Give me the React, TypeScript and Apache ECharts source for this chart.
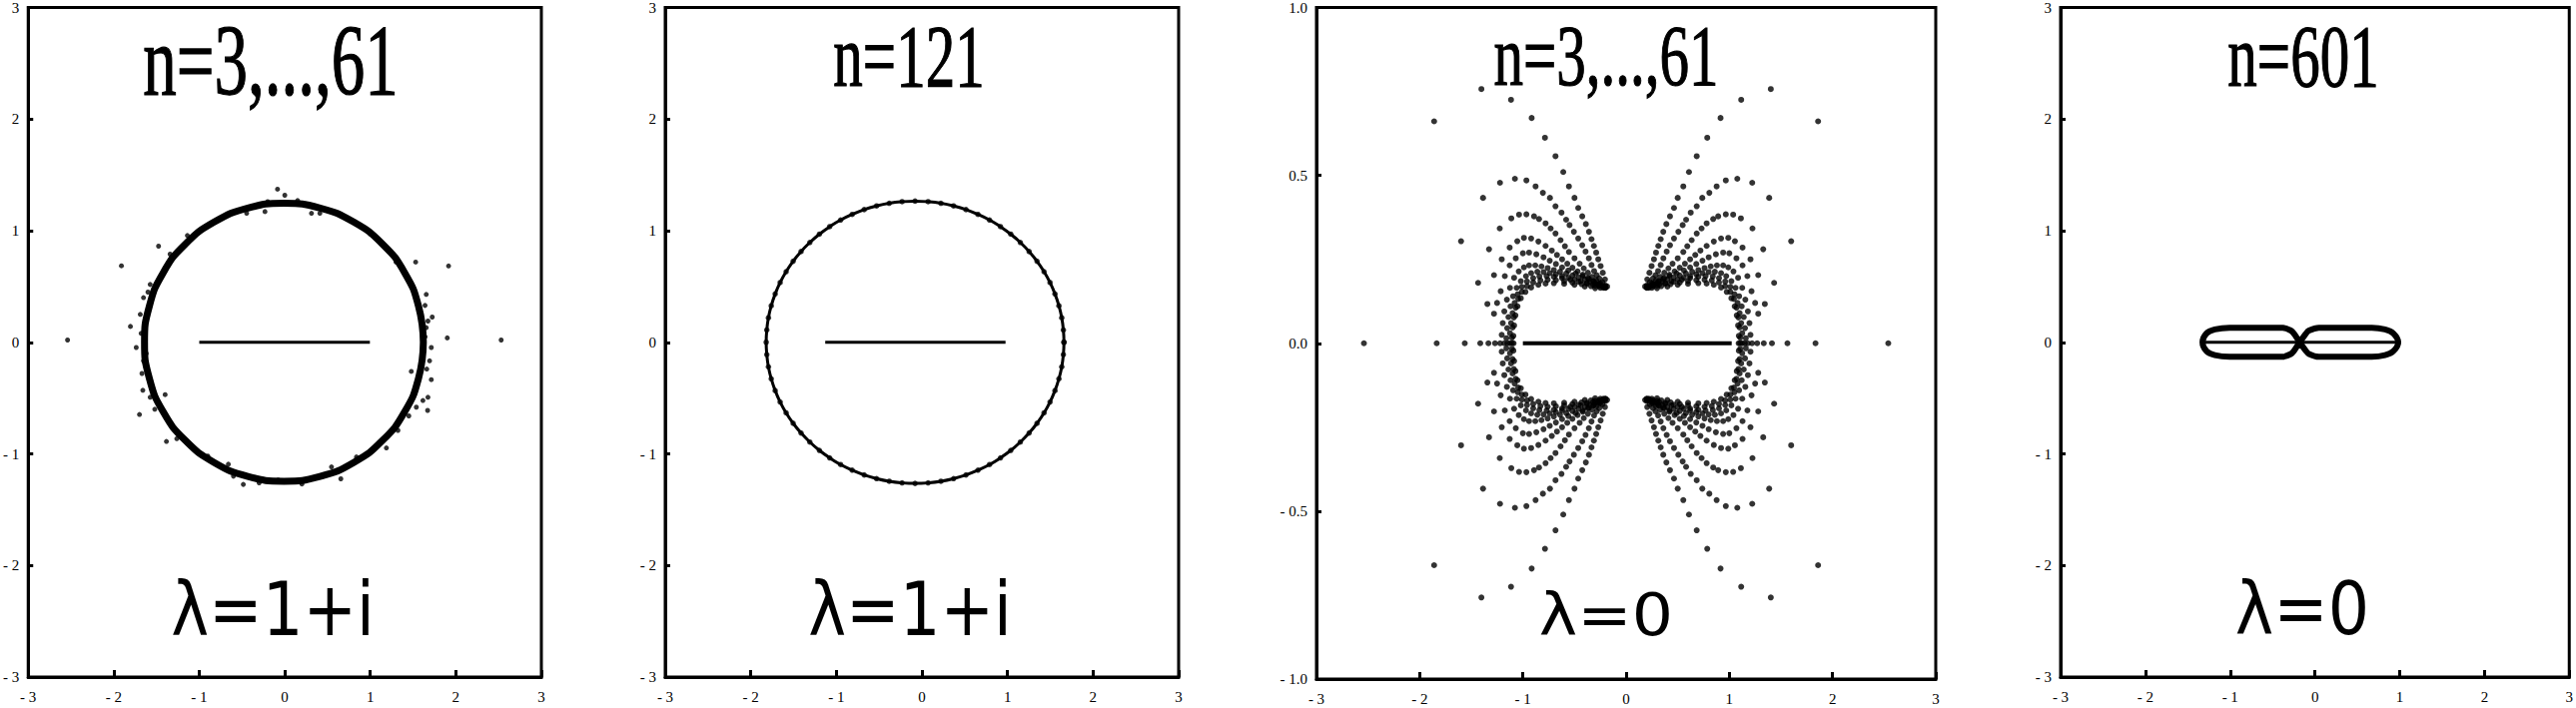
import React, { useEffect, useRef } from "react";
import * as echarts from "echarts";

// ---------- tick labels ----------
const intTickLabels = ["- 3", "- 2", "- 1", "0", "1", "2", "3"];
const p3YTickLabels = ["- 1.0", "- 0.5", "0.0", "0.5", "1.0"];

// ---------- panel texts ----------
const titles = ["n=3,...,61", "n=121", "n=3,...,61", "n=601"];
const lambdas = ["λ=1+i", "λ=1+i", "λ=0", "λ=0"];

// ---------- panel 1 : lambda = 1+i, n = 3..61 ----------
const p1Ring = [
  [1.62, 0], [1.564, 0.322], [1.402, 0.623], [1.143, 0.88], [0.805, 1.078], [0.412, 1.203],
  [-0.01, 1.245], [-0.432, 1.203], [-0.825, 1.078], [-1.163, 0.88], [-1.422, 0.623], [-1.584, 0.322],
  [-1.64, 0], [-1.584, -0.322], [-1.422, -0.623], [-1.163, -0.88], [-0.825, -1.078], [-0.432, -1.203],
  [-0.01, -1.245], [0.412, -1.203], [0.805, -1.078], [1.143, -0.88], [1.402, -0.623], [1.564, -0.322],
  [1.62, 0],
];
const p1Segment = [[-1.0, 0], [0.995, 0]];
const p1Dots = [
  [-2.54, 0.02], [2.53, 0.02], [-1.91, 0.685], [1.915, 0.684], [-1.476, 0.861], [1.53, 0.719],
  [-1.805, 0.142], [1.724, 0.226], [1.9, 0.039], [-1.737, -0.047], [-1.699, -0.647], [-1.399, -0.469],
  [-1.384, -0.889], [1.479, -0.261], [1.674, -0.493], [1.67, -0.611], [1.713, -0.335], [1.188, -0.947],
  [-0.485, -1.274], [0.655, -1.224], [-0.085, 1.372], [0.0, 1.318], [-1.66, -0.43], [-1.139, 0.957],
  [-1.341, 0.79], [-1.652, 0.4], [-1.69, 0.25], [-1.574, 0.518], [-1.652, -0.166], [-1.574, -0.493],
  [-1.263, -0.864], [-0.66, -1.093], [-0.446, 1.156], [-0.232, 1.171], [-0.077, -1.235], [0.312, 1.156],
  [0.41, 1.156], [1.654, 0.429], [1.713, -0.047], [1.693, -0.166], [1.615, -0.522], [1.538, -0.582],
  [1.323, -0.79], [0.838, -1.028], [1.654, 0.131], [1.674, 0.19], [0.546, -1.117],
  [-1.68, 0.08], [-1.67, -0.28], [-1.6, 0.45], [-1.52, -0.6], [-1.05, 0.96], [-0.9, -1.02],
  [-0.2, 1.26], [0.15, 1.27], [0.6, 1.16], [1.0, 0.97], [1.3, 0.72], [1.64, 0.05], [1.66, -0.24],
  [1.45, -0.66], [0.2, -1.27], [-0.3, -1.26], [-0.6, -1.2], [0.45, -1.2], [1.64, 0.33], [-1.62, -0.1],
];

// ---------- panel 2 : lambda = 1+i, n = 121 ----------
const p2Ring = [
  [1.66, 0], [1.653, 0.11], [1.634, 0.22], [1.601, 0.327], [1.555, 0.433], [1.497, 0.535],
  [1.427, 0.633], [1.345, 0.726], [1.253, 0.813], [1.15, 0.894], [1.038, 0.969], [0.918, 1.036],
  [0.79, 1.096], [0.655, 1.146], [0.515, 1.189], [0.37, 1.222], [0.222, 1.246], [0.072, 1.26],
  [-0.08, 1.265], [-0.232, 1.26], [-0.382, 1.246], [-0.53, 1.222], [-0.675, 1.189], [-0.815, 1.146],
  [-0.95, 1.096], [-1.078, 1.036], [-1.198, 0.969], [-1.31, 0.894], [-1.413, 0.813], [-1.505, 0.726],
  [-1.587, 0.633], [-1.657, 0.535], [-1.715, 0.433], [-1.761, 0.327], [-1.794, 0.22], [-1.813, 0.11],
  [-1.82, 0], [-1.813, -0.11], [-1.794, -0.22], [-1.761, -0.327], [-1.715, -0.433], [-1.657, -0.535],
  [-1.587, -0.633], [-1.505, -0.726], [-1.413, -0.813], [-1.31, -0.894], [-1.198, -0.969], [-1.078, -1.036],
  [-0.95, -1.096], [-0.815, -1.146], [-0.675, -1.189], [-0.53, -1.222], [-0.382, -1.246], [-0.232, -1.26],
  [-0.08, -1.265], [0.072, -1.26], [0.222, -1.246], [0.37, -1.222], [0.515, -1.189], [0.655, -1.146],
  [0.79, -1.096], [0.918, -1.036], [1.038, -0.969], [1.15, -0.894], [1.253, -0.813], [1.345, -0.726],
  [1.427, -0.633], [1.497, -0.535], [1.555, -0.433], [1.601, -0.327], [1.634, -0.22], [1.653, -0.11],
  [1.66, 0],
];
const p2Segment = [[-1.13, 0], [0.977, 0]];

// ---------- panel 3 : lambda = 0, n = 3..61 (upper-left quadrant; the picture is symmetric) ----------
const p3ArcA = [
  [-0.184, 0.169], [-0.205, 0.19], [-0.226, 0.21], [-0.247, 0.23], [-0.27, 0.25], [-0.29, 0.27],
  [-0.312, 0.29], [-0.335, 0.31], [-0.36, 0.332], [-0.39, 0.355], [-0.425, 0.378], [-0.464, 0.403],
  [-0.5, 0.433], [-0.554, 0.467], [-0.609, 0.51], [-0.684, 0.557], [-0.786, 0.612], [-0.915, 0.671],
  [-1.115, 0.725], [-1.402, 0.757],
];
const p3ArcB = [
  [-0.2, 0.172], [-0.23, 0.182], [-0.26, 0.193], [-0.285, 0.203], [-0.31, 0.215], [-0.335, 0.233],
  [-0.361, 0.253], [-0.393, 0.273], [-0.425, 0.292], [-0.464, 0.312], [-0.506, 0.332], [-0.548, 0.352],
  [-0.581, 0.368], [-0.626, 0.389], [-0.684, 0.408], [-0.738, 0.433], [-0.806, 0.448], [-0.877, 0.467],
  [-0.966, 0.485], [-1.077, 0.49], [-1.222, 0.478], [-1.386, 0.433], [-1.599, 0.304],
];
const p3ArcC = [
  [-0.21, 0.17], [-0.25, 0.179], [-0.29, 0.188], [-0.33, 0.198], [-0.37, 0.21], [-0.41, 0.223],
  [-0.45, 0.237], [-0.5, 0.253], [-0.554, 0.272], [-0.593, 0.289], [-0.635, 0.307], [-0.684, 0.327],
  [-0.731, 0.342], [-0.78, 0.357], [-0.844, 0.37], [-0.892, 0.378], [-0.966, 0.384], [-1.037, 0.383],
  [-1.112, 0.372], [-1.224, 0.342], [-1.328, 0.28], [-1.434, 0.18],
];
const p3ArcD = [
  [-0.22, 0.168], [-0.27, 0.176], [-0.32, 0.185], [-0.37, 0.194], [-0.42, 0.204], [-0.47, 0.214],
  [-0.52, 0.225], [-0.57, 0.237], [-0.62, 0.25], [-0.67, 0.263], [-0.72, 0.276], [-0.78, 0.29],
  [-0.85, 0.303], [-0.92, 0.312], [-0.99, 0.314], [-1.054, 0.304], [-1.128, 0.285], [-1.205, 0.25],
  [-1.28, 0.203], [-1.344, 0.117],
];
const p3ArcE = [
  [-0.21, 0.168], [-0.26, 0.176], [-0.31, 0.184], [-0.36, 0.192], [-0.42, 0.2], [-0.49, 0.208],
  [-0.56, 0.217], [-0.62, 0.226], [-0.68, 0.236], [-0.74, 0.246], [-0.8, 0.256], [-0.87, 0.265],
  [-0.94, 0.27], [-1.0, 0.268], [-1.069, 0.253], [-1.128, 0.232], [-1.175, 0.2], [-1.215, 0.155],
  [-1.25, 0.12], [-1.28, 0.088],
];
const p3ArcF = [
  [-0.2, 0.166], [-0.25, 0.172], [-0.3, 0.178], [-0.35, 0.184], [-0.4, 0.19], [-0.46, 0.196],
  [-0.52, 0.202], [-0.58, 0.208], [-0.64, 0.213], [-0.7, 0.218], [-0.76, 0.224], [-0.82, 0.229],
  [-0.88, 0.232], [-0.94, 0.232], [-0.99, 0.226], [-1.04, 0.214], [-1.085, 0.195], [-1.125, 0.165],
  [-1.155, 0.13], [-1.18, 0.095], [-1.195, 0.06], [-1.205, 0.025],
];
const p3ArcG = [
  [-0.2, 0.165], [-0.26, 0.17], [-0.32, 0.175], [-0.38, 0.18], [-0.44, 0.185], [-0.5, 0.19],
  [-0.56, 0.195], [-0.62, 0.2], [-0.68, 0.205], [-0.74, 0.209], [-0.8, 0.212], [-0.86, 0.213],
  [-0.92, 0.209], [-0.97, 0.2], [-1.02, 0.185], [-1.06, 0.165], [-1.095, 0.14], [-1.12, 0.11],
  [-1.14, 0.078], [-1.152, 0.045], [-1.16, 0.015],
];
const p3ArcH = [
  [-0.22, 0.165], [-0.3, 0.171], [-0.38, 0.177], [-0.46, 0.183], [-0.54, 0.189], [-0.62, 0.194],
  [-0.7, 0.198], [-0.77, 0.2], [-0.84, 0.199], [-0.9, 0.194], [-0.96, 0.184], [-1.01, 0.168],
  [-1.05, 0.146], [-1.08, 0.12], [-1.1, 0.09], [-1.115, 0.06], [-1.125, 0.03],
];
const p3ArcI = [
  [-0.25, 0.165], [-0.34, 0.17], [-0.43, 0.176], [-0.52, 0.181], [-0.6, 0.185], [-0.68, 0.188],
  [-0.76, 0.189], [-0.83, 0.187], [-0.9, 0.181], [-0.96, 0.17], [-1.01, 0.153], [-1.045, 0.132],
  [-1.07, 0.106], [-1.088, 0.077], [-1.1, 0.047], [-1.106, 0.017],
];
const p3ArcJ = [
  [-0.3, 0.164], [-0.4, 0.169], [-0.5, 0.174], [-0.6, 0.177], [-0.7, 0.179], [-0.78, 0.178],
  [-0.85, 0.174], [-0.92, 0.166], [-0.975, 0.153], [-1.02, 0.134], [-1.052, 0.11], [-1.072, 0.083],
  [-1.085, 0.053], [-1.092, 0.022],
];
const p3Outer = [[-1.86, 0.661]];
const p3AxisDots = [
  [-2.54, 0], [-1.835, 0], [-1.563, 0], [-1.413, 0], [-1.334, 0], [-1.27, 0], [-1.22, 0],
  [-1.18, 0], [-1.15, 0], [-1.125, 0], [-1.105, 0], [-1.09, 0],
];
const p3Segment = [[-1.0, 0], [1.023, 0]];

// ---------- panel 4 : lambda = 0, n = 601 ----------
const p4Loop = [
  [-0.179, 0], [-0.245, 0.075], [-0.284, 0.105], [-0.382, 0.13], [-0.694, 0.13], [-1.006, 0.13],
  [-1.181, 0.115], [-1.279, 0.08], [-1.326, 0], [-1.279, -0.08], [-1.181, -0.115], [-1.006, -0.13],
  [-0.694, -0.13], [-0.382, -0.13], [-0.284, -0.105], [-0.245, -0.075], [-0.179, 0], [-0.109, 0.075],
  [-0.07, 0.105], [0.047, 0.13], [0.359, 0.13], [0.672, 0.13], [0.827, 0.115], [0.925, 0.08],
  [0.983, 0], [0.925, -0.08], [0.827, -0.115], [0.672, -0.13], [0.359, -0.13], [0.047, -0.13],
  [-0.07, -0.105], [-0.109, -0.075], [-0.179, 0],
];
const p4Segment = [[-1.32, 0], [0.975, 0]];

// ---------- layout (pixels) ----------
const gridBoxes = [
  { left: 28, top: 5, width: 514, height: 673 },
  { left: 666, top: 5, width: 514, height: 673 },
  { left: 1318, top: 6, width: 620, height: 674 },
  { left: 2063, top: 5, width: 513, height: 673 },
];
const titleBoxes = [
  { x: 271, y: 61, size: 67, sy: 1.52 },
  { x: 910, y: 56, size: 59, sy: 1.5 },
  { x: 1608, y: 56, size: 59, sy: 1.48 },
  { x: 2306, y: 56, size: 59, sy: 1.5 },
];
const lambdaBoxes = [
  { x: 273, y: 610, size: 64, sy: 1.16 },
  { x: 911, y: 610, size: 64, sy: 1.16 },
  { x: 1608, y: 616, size: 65, sy: 0.9 },
  { x: 2305, y: 610, size: 65, sy: 1.13 },
];

const mirror4 = (pts: number[][]) =>
  pts.flatMap(([x, y]) =>
    y === 0 ? [[x, y], [-x, y]] : [[x, y], [-x, y], [x, -y], [-x, -y]]
  );

export default function App() {
  const ref = useRef<HTMLDivElement>(null);
  useEffect(() => {
    if (!ref.current) return;
    const chart = echarts.init(ref.current, null, { renderer: "svg" });

    const baseAxis = (i: number, min: number, max: number, interval: number, tickLen: number, margin: number, fmt: (v: number) => string) => ({
      type: "value",
      gridIndex: i,
      min,
      max,
      interval,
      axisLine: { show: true, onZero: false, lineStyle: { color: "#000", width: 3 } },
      axisTick: { show: true, inside: true, length: tickLen, lineStyle: { color: "#000", width: 3 } },
      axisLabel: {
        show: true,
        color: "#000",
        fontFamily: "Liberation Serif",
        fontSize: 15,
        margin,
        showMinLabel: true,
        showMaxLabel: true,
        formatter: fmt,
      },
      splitLine: { show: false },
    });
    const fmtInt = (v: number) => intTickLabels[Math.round(v + 3)];
    const fmtP3 = (v: number) => p3YTickLabels[Math.round((v + 1) / 0.5)];

    const xAxis = gridBoxes.map((_, i) => baseAxis(i, -3, 3, 1, 7, 12, fmtInt));
    const yAxis = gridBoxes.map((_, i) =>
      i === 2 ? baseAxis(i, -1, 1, 0.5, 5, 9, fmtP3) : baseAxis(i, -3, 3, 1, 5, 9, fmtInt)
    );

    const lineS = (i: number, data: number[][], width: number, smooth: any = false) => ({
      type: "line",
      xAxisIndex: i,
      yAxisIndex: i,
      data,
      smooth,
      symbol: "none",
      silent: true,
      lineStyle: { color: "#000", width },
    });
    const dotS = (i: number, data: number[][], size: number) => ({
      type: "scatter",
      xAxisIndex: i,
      yAxisIndex: i,
      data,
      symbol: "circle",
      symbolSize: size,
      silent: true,
      itemStyle: { color: "#000" },
    });

    const p3All = mirror4([
      ...p3ArcA, ...p3ArcB, ...p3ArcC, ...p3ArcD, ...p3ArcE,
      ...p3ArcF, ...p3ArcG, ...p3ArcH, ...p3ArcI, ...p3ArcJ,
      ...p3Outer, ...p3AxisDots,
    ]);

    const series = [
      lineS(0, p1Ring, 7, true),
      lineS(0, p1Segment, 3),
      dotS(0, p1Dots, 5),
      lineS(1, p2Ring, 3, true),
      dotS(1, p2Ring, 5.5),
      lineS(1, p2Segment, 3),
      lineS(2, p3Segment, 4),
      dotS(2, p3All, 6),
      lineS(3, p4Loop, 6, 0.3),
      lineS(3, p4Segment, 3),
    ];

    const graphic: any[] = [];
    titles.forEach((t, i) => {
      const b = titleBoxes[i];
      graphic.push({
        type: "text",
        x: b.x,
        y: b.y,
        scaleY: b.sy,
        z: 10,
        style: {
          text: t,
          fontFamily: "Liberation Serif",
          fontSize: b.size,
          fill: "#000",
          stroke: "#000",
          lineWidth: 0.8,
          textAlign: "center",
          textVerticalAlign: "middle",
        },
      });
    });
    lambdas.forEach((t, i) => {
      const b = lambdaBoxes[i];
      graphic.push({
        type: "text",
        x: b.x,
        y: b.y,
        scaleY: b.sy,
        z: 10,
        style: {
          text: t,
          fontFamily: "DejaVu Sans",
          fontSize: b.size,
          fill: "#000",
          textAlign: "center",
          textVerticalAlign: "middle",
        },
      });
    });

    chart.setOption({
      animation: false,
      backgroundColor: "#fff",
      grid: gridBoxes.map((g) => ({
        ...g,
        show: true,
        borderColor: "#000",
        borderWidth: 3,
        backgroundColor: "transparent",
        containLabel: false,
      })),
      xAxis,
      yAxis,
      series,
      graphic,
    });
    return () => chart.dispose();
  }, []);
  return (
    <div
      ref={ref}
      style={{ position: "absolute", left: 0, top: 0, width: 2579, height: 709, background: "#fff" }}
    />
  );
}
